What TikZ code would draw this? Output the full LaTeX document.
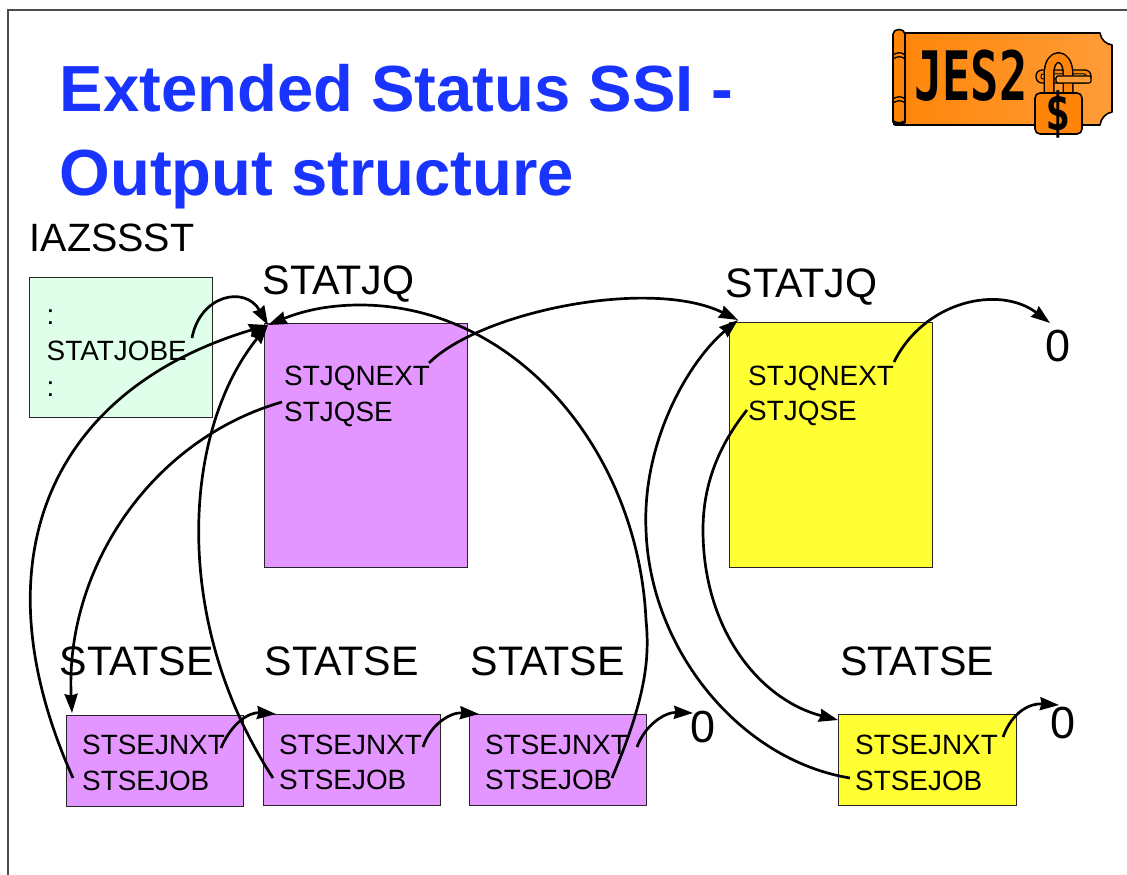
\documentclass[tikz,border=0pt]{standalone}
\usepackage{fontspec}
\setmainfont{Liberation Sans}
\newfontfamily\logofont{DejaVu Sans Mono}
\usetikzlibrary{arrows.meta}
\definecolor{titleblue}{HTML}{1A34FF}
\definecolor{palegreen}{HTML}{E0FFEA}
\definecolor{violet1}{HTML}{E396FF}
\definecolor{yellow1}{HTML}{FFFF33}
\definecolor{orangeA}{HTML}{FF8508}
\definecolor{orangeB}{HTML}{FF9C38}
\tikzset{
  lbl/.style={anchor=base west,inner sep=0pt,font=\fontsize{41.2}{44}\selectfont},
  small/.style={anchor=base west,inner sep=0pt,font=\fontsize{27.9}{30}\selectfont},
  zero/.style={anchor=base west,inner sep=0pt,font=\fontsize{45}{48}\selectfont},
  ttl/.style={anchor=base west,inner sep=0pt,text=titleblue,font=\fontsize{65.2}{70}\selectfont\bfseries},
  boxr/.style={draw=black!85,line width=0.9pt},
  link/.style={draw=black,line width=2.7pt,-{Stealth[length=19pt,width=13pt,inset=1.5pt]}},
}
\begin{document}
\begin{tikzpicture}[x=1pt,y=-1pt]
\useasboundingbox (0,0) rectangle (1127,875);
\fill[white] (0,0) rectangle (1127,875);
\draw[black!70,line width=1.2pt] (8,875) -- (8,10) -- (1127,10);
% logo
\begin{scope}[line join=round]
\draw[black,line width=1.6pt,left color=orangeA,right color=orangeB]
  (905,33) -- (1100,33) .. controls (1101,40) and (1106,44) .. (1112,45)
  -- (1112,112) .. controls (1106,113) and (1101,118) .. (1100,125) -- (895,125) -- cycle;
\draw[black,line width=1.6pt,fill=orangeA]
  (893,122) -- (893,34) .. controls (893,28) and (905,28) .. (905,34) -- (905,122) .. controls (905,126) and (893,126) .. (893,122) -- cycle;
\fill[black] (893,120) .. controls (897,123) and (902,122) .. (905,120) -- (905,124) -- (893,125) -- cycle;
\draw[black,line width=1.3pt] (893,55) .. controls (897,52) and (902,52) .. (905,55);
\draw[black,line width=1.3pt] (893,59) .. controls (897,56) and (902,56) .. (905,59);
\draw[black,line width=1.3pt] (893,99) .. controls (897,96) and (902,96) .. (905,99);
\draw[black,line width=1.3pt] (893,103) .. controls (897,100) and (902,100) .. (905,103);
\node[anchor=base west,inner sep=0pt,yscale=1.45,xscale=1.0] (logotxt) at (914,100)
  {\logofont\bfseries\fontsize{47}{50}\selectfont JES2};
\draw[black,line width=1.3pt,fill=orangeA,rounded corners=6pt] (1036,70) rectangle (1091,83);
\draw[black,line width=1pt,fill=orangeB,rounded corners=2pt] (1041,74) rectangle (1086,79);
\draw[black,line width=11pt] (1049,97) -- (1049,74) .. controls (1049,52) and (1068,52) .. (1068,74) -- (1068,97);
\draw[orangeA,line width=8pt] (1049,97) -- (1049,74) .. controls (1049,52) and (1068,52) .. (1068,74) -- (1068,97);
\draw[black,line width=1.2pt,fill=orangeB,rounded corners=2pt] (1056,76) -- (1091,76) -- (1091,83) -- (1056,83) -- cycle;
\draw[black,line width=1.6pt,fill=orangeA,rounded corners=5pt] (1035,93) -- (1082,93) -- (1082,134) -- (1035,134) -- cycle;
\node[inner sep=0pt,yscale=1.25] (logodollar) at (1058,114)
  {\logofont\bfseries\fontsize{42}{45}\selectfont \$};
\end{scope}
% title
\node[ttl] (t1) at (59.5,111) {Extended Status SSI -};
\node[ttl] (t2) at (59.5,195) {Output structure};
\node[lbl,font=\fontsize{39.5}{42}\selectfont] (iaz) at (29.5,251) {IAZSSST};
% boxes
\filldraw[boxr,fill=palegreen] (29.5,277) rectangle (212,417);
\filldraw[boxr,fill=violet1] (264,323) rectangle (467,567);
\filldraw[boxr,fill=yellow1] (729,322) rectangle (932,567);
\filldraw[boxr,fill=violet1] (66,715) rectangle (243,806);
\filldraw[boxr,fill=violet1] (263,714) rectangle (440,805);
\filldraw[boxr,fill=violet1] (469,714) rectangle (646,805);
\filldraw[boxr,fill=yellow1] (838,714) rectangle (1016,805);
% labels
\node[lbl] (q1) at (262.5,294) {STATJQ};
\node[lbl] (q2) at (725.5,297) {STATJQ};
\node[lbl] (s1) at (59.5,675) {STATSE};
\node[lbl] (s2) at (264.5,675) {STATSE};
\node[lbl] (s3) at (470.5,675) {STATSE};
\node[lbl] (s4) at (840,675) {STATSE};
\node[small] (c1) at (46.5,324) {:};
\node[small] (job) at (46.5,360) {STATJOBE};
\node[small] (c2) at (46.5,396) {:};
\node[small] (n1) at (284,385) {STJQNEXT};
\node[small] (e1) at (284,421) {STJQSE};
\node[small] (n2) at (748,385) {STJQNEXT};
\node[small] (e2) at (748,420) {STJQSE};
\node[small] (a1) at (82,754) {STSEJNXT};
\node[small] (b1) at (82,790) {STSEJOB};
\node[small] (a2) at (279,754) {STSEJNXT};
\node[small] (b2) at (279,789) {STSEJOB};
\node[small] (a3) at (485,754) {STSEJNXT};
\node[small] (b3) at (485,789) {STSEJOB};
\node[small] (a4) at (855,754) {STSEJNXT};
\node[small] (b4) at (855,790) {STSEJOB};
\node[zero] (z1) at (1045,361) {0};
\node[zero] (z2) at (690,742) {0};
\node[zero] (z3) at (1050,738) {0};
% connector ends
\coordinate (jobEnd) at (192,338);
\coordinate (q1in) at (268,325);
\coordinate (q2in) at (738,320);
\coordinate (n1s) at (429,363);
\coordinate (e1s) at (282,402);
\coordinate (s1in) at (72,713);
\coordinate (b1s) at (73,778);
\coordinate (b2s) at (273,778);
\coordinate (b3s) at (612,778);
\coordinate (b4s) at (850,778);
\coordinate (e2s) at (747,410);
\coordinate (s4in) at (838,720);
\coordinate (n2s) at (894,362);
\coordinate (z1in) at (1050,323);
\coordinate (a1s) at (221,748);
\coordinate (s2in) at (276,714);
\coordinate (a2s) at (423,747);
\coordinate (s3in) at (479,714);
\coordinate (a3s) at (637,747);
\coordinate (z2in) at (693,713);
\coordinate (a4s) at (1003,737);
\coordinate (z3in) at (1059,705);
% connectors
\draw[link] (jobEnd) .. controls (200,295) and (245,285) .. (q1in);
\draw[link] (n1s) .. controls (480,312) and (650,277) .. (q2in);
\draw[link] (e1s) .. controls (150,440) and (65,570) .. (s1in);
\draw[link] (b1s) .. controls (-25,560) and (50,390) .. (q1in);
\draw[link] (b2s) .. controls (170,620) and (183,430) .. (q1in);
\draw[link] (b3s) .. controls (645,700) and (650,660) .. (646,620) .. controls (638,450) and (515,305) .. (360,305) .. controls (325,305) and (300,312) .. (q1in);
\draw[link] (b4s) .. controls (740,760) and (650,650) .. (646,530) .. controls (642,440) and (690,360) .. (q2in);
\draw[link] (e2s) .. controls (715,450) and (703,490) .. (703,530) .. controls (703,630) and (760,700) .. (s4in);
\draw[link] (n2s) .. controls (925,300) and (1000,285) .. (z1in);
\draw[link] (a1s) .. controls (232,722) and (250,712) .. (s2in);
\draw[link] (a2s) .. controls (430,725) and (450,712) .. (s3in);
\draw[link] (a3s) .. controls (645,725) and (665,712) .. (z2in);
\draw[link] (a4s) .. controls (1012,712) and (1030,703) .. (z3in);
\end{tikzpicture}
\end{document}
